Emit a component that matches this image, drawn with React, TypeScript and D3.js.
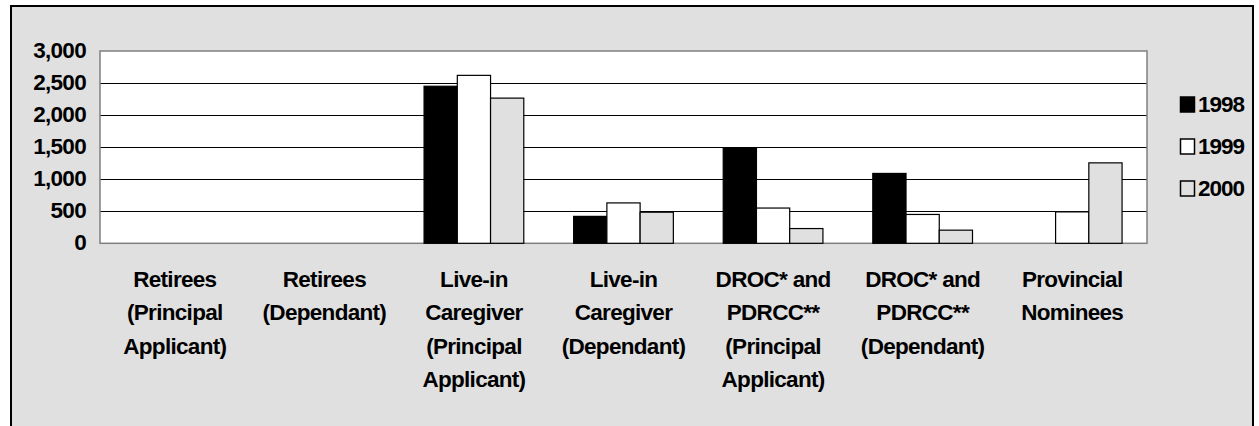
import React from "react";
import * as d3 from "d3";

const categories: string[][] = [
  ["Retirees", "(Principal", "Applicant)"],
  ["Retirees", "(Dependant)"],
  ["Live-in", "Caregiver", "(Principal", "Applicant)"],
  ["Live-in", "Caregiver", "(Dependant)"],
  ["DROC* and", "PDRCC**", "(Principal", "Applicant)"],
  ["DROC* and", "PDRCC**", "(Dependant)"],
  ["Provincial", "Nominees"],
];
const seriesNames = ["1998", "1999", "2000"];
const values1998 = [0, 0, 2450, 420, 1480, 1090, 0];
const values1999 = [0, 0, 2620, 630, 550, 450, 490];
const values2000 = [0, 0, 2265, 485, 230, 205, 1255];
const yTicks = [0, 500, 1000, 1500, 2000, 2500, 3000];

const seriesValues = [values1998, values1999, values2000];
const seriesFill = ["#000000", "#ffffff", "#e0e0e0"];

const W = 1259;
const H = 426;
const plot = { left: 100, right: 1147, top: 51, bottom: 243.3 };
const FONT = "'Liberation Sans', Arial, sans-serif";
const FS = 22.5;

export default function App() {
  const catKeys = categories.map((_, i) => String(i));
  const x0 = d3.scaleBand<string>().domain(catKeys).range([plot.left, plot.right]).paddingInner(0).paddingOuter(0);
  const x1 = d3.scaleBand<string>().domain(seriesNames).range([0, x0.bandwidth()]).paddingInner(0).paddingOuter(0.75);
  const y = d3.scaleLinear().domain([0, 3000]).range([plot.bottom, plot.top]);
  const fmt = d3.format(",");

  return (
    <div style={{ position: "absolute", left: 0, top: 0 }}>
      <svg width={W} height={H} style={{ display: "block" }}>
        <rect x={0} y={0} width={W} height={H} fill="#ffffff" />
        <rect x={11} y={6} width={1242} height={H + 20} fill="#e0e0e0" stroke="#000" strokeWidth={2} />
        <rect x={plot.left} y={plot.top} width={plot.right - plot.left} height={plot.bottom - plot.top} fill="#ffffff" />
        {yTicks.filter((t) => t > 0 && t < 3000).map((t) => (
          <line key={t} x1={plot.left} x2={plot.right} y1={Math.round(y(t)) + 0.5} y2={Math.round(y(t)) + 0.5} stroke="#000" strokeWidth={1} />
        ))}
        <rect x={plot.left} y={plot.top} width={plot.right - plot.left} height={plot.bottom - plot.top} fill="none" stroke="#808080" strokeWidth={1.5} />
        {seriesValues.map((vals, si) =>
          vals.map((v, ci) =>
            v > 0 ? (
              <rect
                key={`${si}-${ci}`}
                x={(x0(String(ci)) as number) + (x1(seriesNames[si]) as number)}
                y={y(v)}
                width={x1.bandwidth()}
                height={plot.bottom - y(v)}
                fill={seriesFill[si]}
                stroke="#000"
                strokeWidth={1.2}
              />
            ) : null
          )
        )}
        {yTicks.map((t) => (
          <text key={t} x={86} y={y(t) + 6.5} textAnchor="end" fontFamily={FONT} fontWeight="bold" fontSize={FS} letterSpacing={-0.7} fill="#000">
            {fmt(t)}
          </text>
        ))}
        {categories.map((lines, ci) => (
          <text key={ci} fontFamily={FONT} fontWeight="bold" fontSize={FS} letterSpacing={-0.7} textAnchor="middle" fill="#000">
            {lines.map((ln, li) => (
              <tspan key={li} x={(x0(String(ci)) as number) + x0.bandwidth() / 2} y={287 + li * 33.3}>
                {ln}
              </tspan>
            ))}
          </text>
        ))}
        {seriesNames.map((s, si) => (
          <g key={s} transform={`translate(0, ${104.5 + si * 42})`}>
            <rect x={1180.5} y={-7.5} width={14} height={15} fill={seriesFill[si]} stroke="#000" strokeWidth={1.5} />
            <text x={1198} y={7.5} fontFamily={FONT} fontWeight="bold" fontSize={FS} letterSpacing={-1} fill="#000">
              {s}
            </text>
          </g>
        ))}
      </svg>
    </div>
  );
}
